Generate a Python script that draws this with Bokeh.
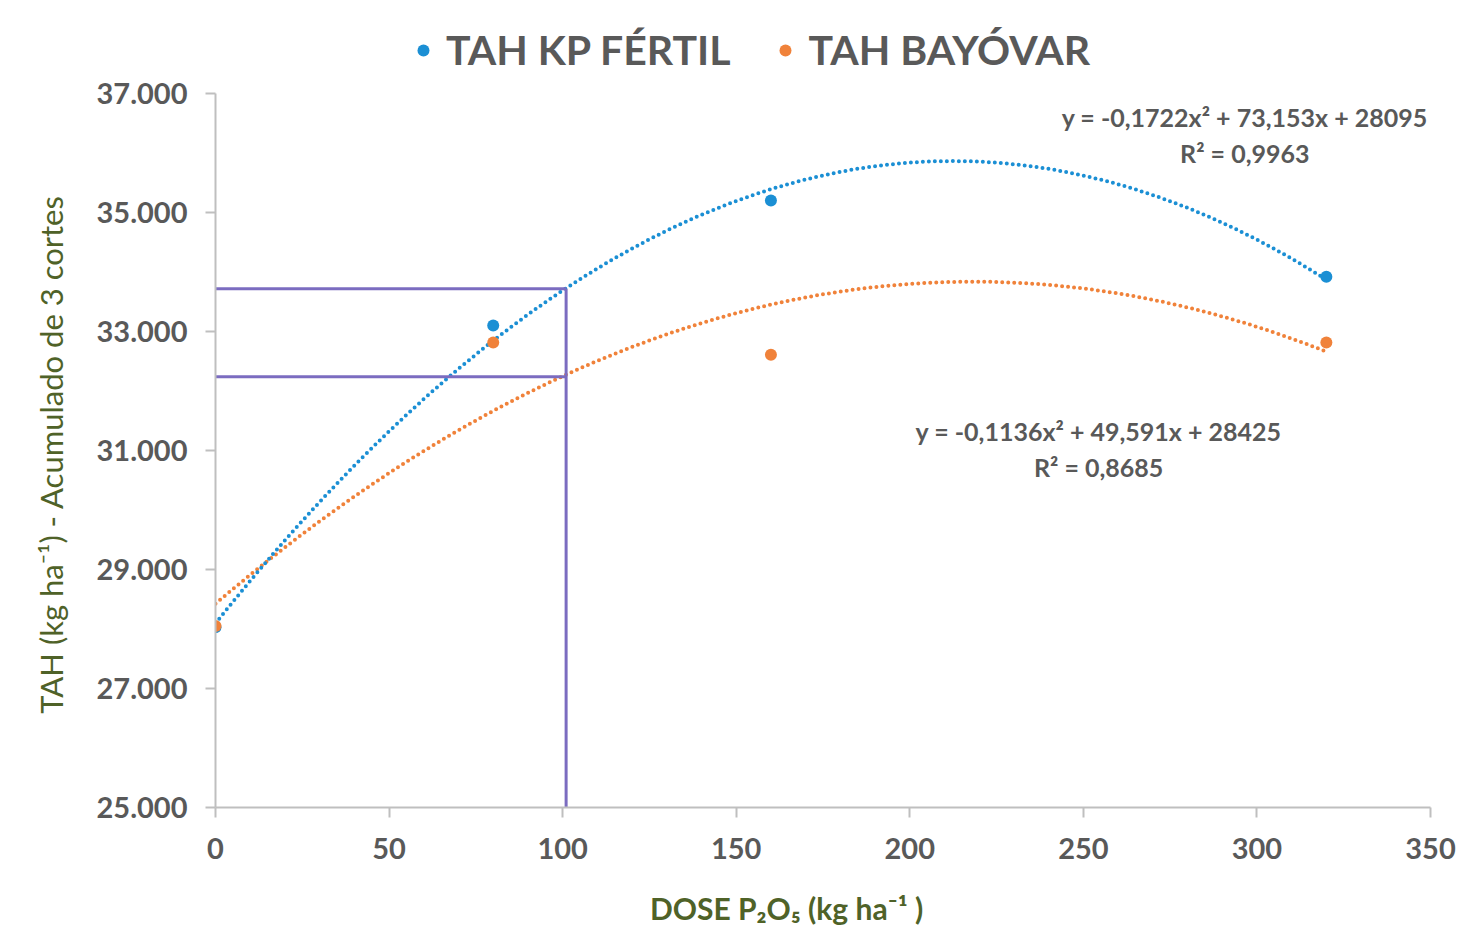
import numpy as np
from bokeh.plotting import figure
from bokeh.layouts import column
from bokeh.models import Legend, LegendItem, Label, FixedTicker
from bokeh.embed import file_html
from bokeh.resources import INLINE

# ---- data ----
doses = [0, 80, 160, 320]
kp_fertil = [28030, 33100, 35200, 33920]
bayovar = [28050, 32815, 32610, 32815]
series_names = ["TAH KP FÉRTIL", "TAH BAYÓVAR"]

# trendline coefficients (a, b, c) as printed on the chart
kp_coef = [-0.1722, 73.153, 28095]
bay_coef = [-0.1136, 49.591, 28425]
eq_kp = ["y = -0,1722x² + 73,153x + 28095", "R² = 0,9963"]
eq_bay = ["y = -0,1136x² + 49,591x + 28425", "R² = 0,8685"]

# reading guide lines (dose 101)
guide_x_upper = [-1, 101]
guide_y_upper = [33720, 33720]
guide_x_lower = [-1, 101]
guide_y_lower = [32240, 32240]
guide_x_vert = [101, 101]
guide_y_vert = [33720, 25000]

x_ticks = [0, 50, 100, 150, 200, 250, 300, 350]
y_ticks = [25000, 27000, 29000, 31000, 33000, 35000, 37000]
y_tick_labels = ["25.000", "27.000", "29.000", "31.000", "33.000", "35.000", "37.000"]

BLUE = "#1b8fd4"
ORANGE = "#f0823a"
PURPLE = "#7b6cc0"
GREY = "#595959"
GREEN = "#4f6228"
FONT = "Lato"

W = 1466
TOP_H = 76
MAIN_TOP = 93 - TOP_H

# ---- legend strip ----
top = figure(width=W, height=TOP_H, output_backend="svg", toolbar_location=None,
             x_range=(0, 1), y_range=(0, 1), x_axis_type=None, y_axis_type=None,
             min_border=0)
top.grid.visible = False
top.outline_line_color = None
# legend proxies, placed outside the visible range
lk = top.scatter([-5], [-5], size=12, fill_color=BLUE, line_color=None)
lb = top.scatter([-5], [-5], size=12, fill_color=ORANGE, line_color=None)
legend = Legend(items=[LegendItem(label=series_names[0], renderers=[lk]),
                       LegendItem(label=series_names[1], renderers=[lb])],
                orientation="horizontal", location=(193, 2),
                label_text_font=FONT, label_text_font_style="bold",
                label_text_font_size="41px", label_text_color=GREY,
                glyph_width=30, glyph_height=30, spacing=40, label_standoff=8,
                border_line_color=None, background_fill_alpha=0, margin=0, padding=8)
top.add_layout(legend)

# ---- main plot ----
p = figure(width=W, height=946 - TOP_H, output_backend="svg", toolbar_location=None,
           x_range=(0, 350), y_range=(25000, 37000),
           min_border_left=215, min_border_right=W - 1430, min_border_top=MAIN_TOP,
           min_border_bottom=946 - 807)
p.grid.visible = False
p.outline_line_color = None
p.background_fill_color = "white"
p.border_fill_color = "white"

xs = np.linspace(0, 320, 160)
kp_trend = kp_coef[0] * xs**2 + kp_coef[1] * xs + kp_coef[2]
bay_trend = bay_coef[0] * xs**2 + bay_coef[1] * xs + bay_coef[2]
p.line(xs, bay_trend, line_color=ORANGE, line_width=4, line_dash="0 6", line_cap="round")
p.line(xs, kp_trend, line_color=BLUE, line_width=4, line_dash="0 6", line_cap="round")

for gx, gy in [(guide_x_upper, guide_y_upper), (guide_x_lower, guide_y_lower), (guide_x_vert, guide_y_vert)]:
    p.line(gx, gy, line_color=PURPLE, line_width=3)

p.scatter(doses, kp_fertil, size=12, fill_color=BLUE, line_color=None)
p.scatter(doses, bayovar, size=12, fill_color=ORANGE, line_color=None)

for ax in (p.xaxis[0], p.yaxis[0]):
    ax.axis_line_color = "#bfbfbf"
    ax.axis_line_width = 2
    ax.major_tick_line_color = "#bfbfbf"
    ax.major_tick_line_width = 2
    ax.major_tick_out = 10
    ax.major_tick_in = 0
    ax.minor_tick_line_color = None
    ax.major_label_text_font = FONT
    ax.major_label_text_font_style = "bold"
    ax.major_label_text_font_size = "29px"
    ax.major_label_text_color = GREY
    ax.axis_label_text_font = FONT
    ax.axis_label_text_color = GREEN

p.xaxis.ticker = FixedTicker(ticks=x_ticks)
p.yaxis.ticker = FixedTicker(ticks=y_ticks)
p.yaxis.major_label_overrides = {t: l for t, l in zip(y_ticks, y_tick_labels)}
p.xaxis.major_label_standoff = 20
p.yaxis.major_label_standoff = 18
p.xaxis.axis_label = "DOSE P₂O₅ (kg ha⁻¹ )" + "\u00a0" * 10
p.xaxis.axis_label_text_font_style = "bold"
p.xaxis.axis_label_text_font_size = "30px"
p.xaxis.axis_label_standoff = 28
p.yaxis.axis_label = "TAH (kg ha⁻¹) - Acumulado  de 3 cortes"
p.yaxis.axis_label_text_font_style = "normal"
p.yaxis.axis_label_text_font_size = "31px"
p.yaxis.axis_label_standoff = 24

def eq_label(x, y, text):
    p.add_layout(Label(x=x, y=y, text=text, text_align="center", text_baseline="middle",
                       text_font=FONT, text_font_style="bold", text_font_size="25px",
                       text_color=GREY))

eq_label(296.5, 36613, eq_kp[0])
eq_label(296.5, 36008, eq_kp[1])
eq_label(254.4, 31336, eq_bay[0])
eq_label(254.4, 30731, eq_bay[1])

layout = column(top, p, spacing=0)
open("out.html", "w").write(file_html(layout, INLINE))
